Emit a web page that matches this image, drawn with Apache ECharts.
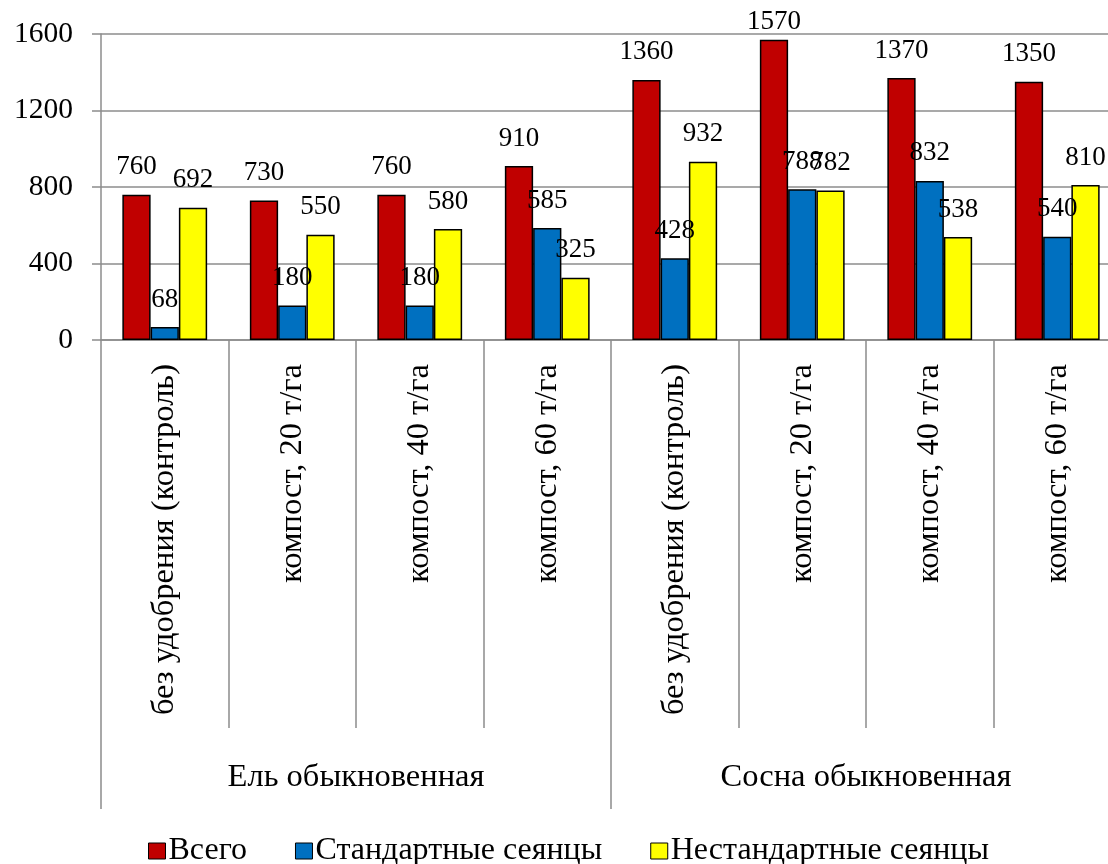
<!DOCTYPE html>
<html>
<head>
<meta charset="utf-8">
<script src="https://cdn.jsdelivr.net/npm/echarts@6/dist/echarts.min.js"></script>
<style>
  html, body { margin: 0; padding: 0; background: #fff; overflow: hidden; }
  /* the plot runs slightly past the right edge of the window */
  #chart { width: 1124px; height: 864px; }
</style>
</head>
<body>
<div id="chart"></div>
<script>
// Seedling counts by treatment for two species
const treatments = [
  'без удобрения (контроль)', 'компост, 20 т/га', 'компост, 40 т/га', 'компост, 60 т/га',
  'без удобрения (контроль)', 'компост, 20 т/га', 'компост, 40 т/га', 'компост, 60 т/га'
];
const species = ['Ель обыкновенная', 'Сосна обыкновенная'];
const seriesNames = ['Всего', 'Стандартные сеянцы', 'Нестандартные сеянцы'];
const totalValues = [760, 730, 760, 910, 1360, 1570, 1370, 1350];
const standardValues = [68, 180, 180, 585, 428, 788, 832, 540];
const nonStandardValues = [692, 550, 580, 325, 932, 782, 538, 810];
const yTicks = [0, 400, 800, 1200, 1600];

const colors = ['#C00000', '#0070C0', '#FFFF00'];
const serif = '"Liberation Serif", "Times New Roman", serif';
const gridGrey = '#8c8c8c';
const yMax = yTicks[yTicks.length - 1];

function makeSeries(name, values, color) {
  return {
    name: name,
    type: 'bar',
    xAxisIndex: 0,
    barGap: '0%',
    barCategoryGap: '33.5%',
    itemStyle: { color: color, borderColor: '#000', borderWidth: 1.5 },
    label: {
      show: true,
      position: 'top',
      distance: 14,
      color: '#000',
      fontFamily: serif,
      fontSize: 27
    },
    // labels near the top of the value range are pulled down to stay on the canvas
    data: values.map(v => v > yMax * 0.94 ? { value: v, label: { distance: 4 } } : v)
  };
}

const chart = echarts.init(document.getElementById('chart'));
chart.setOption({
  backgroundColor: '#fff',
  animation: false,
  color: colors,
  grid: { left: 101, top: 34, width: 1020, height: 306, containLabel: false },
  legend: {
    left: 143,
    top: 830,
    itemWidth: 17,
    itemHeight: 16,
    itemGap: 48,
    icon: 'rect',
    itemStyle: { borderColor: '#000', borderWidth: 1 },
    textStyle: { fontFamily: serif, fontSize: 32, color: '#000', padding: [0, 0, 0, -2] },
    data: seriesNames
  },
  xAxis: [
    {
      type: 'category',
      data: treatments,
      position: 'bottom',
      axisLine: { show: true, lineStyle: { color: gridGrey, width: 1.5 } },
      axisTick: { show: true, interval: 0, length: 388, lineStyle: { color: gridGrey, width: 1.5 } },
      axisLabel: {
        interval: 0,
        rotate: 90,
        margin: 24,
        color: '#000',
        fontFamily: serif,
        fontSize: 32.5
      }
    },
    {
      type: 'category',
      data: species,
      position: 'bottom',
      offset: 388,
      axisLine: { show: false },
      axisTick: { show: true, interval: 0, length: 81, lineStyle: { color: gridGrey, width: 1.5 } },
      axisLabel: {
        interval: 0,
        margin: 33,
        color: '#000',
        fontFamily: serif,
        fontSize: 32.5
      }
    }
  ],
  yAxis: {
    type: 'value',
    min: yTicks[0],
    max: yMax,
    interval: yTicks[1] - yTicks[0],
    axisLine: { show: true, lineStyle: { color: gridGrey, width: 1.5 } },
    axisTick: { show: true, length: 9, lineStyle: { color: gridGrey, width: 1.5 } },
    splitLine: { show: true, lineStyle: { color: gridGrey, width: 1.5 } },
    axisLabel: {
      margin: 28,
      color: '#000',
      fontFamily: serif,
      fontSize: 29.5,
      formatter: v => String(v)
    }
  },
  series: [
    makeSeries(seriesNames[0], totalValues, colors[0]),
    makeSeries(seriesNames[1], standardValues, colors[1]),
    makeSeries(seriesNames[2], nonStandardValues, colors[2])
  ]
});
</script>
</body>
</html>
